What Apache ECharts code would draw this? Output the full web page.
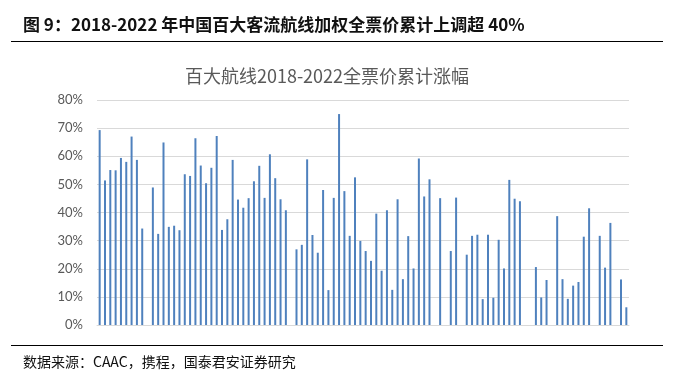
<!DOCTYPE html>
<html>
<head>
<meta charset="utf-8">
<script src="https://cdn.jsdelivr.net/npm/echarts@6/dist/echarts.min.js"></script>
<style>html,body{margin:0;padding:0;background:#fff;}#c{width:677px;height:381px;}</style>
</head>
<body>
<div id="c"></div>
<script>
var figureTitle = '图 9：2018-2022 年中国百大客流航线加权全票价累计上调超 40%';
var chartTitle = '百大航线2018-2022全票价累计涨幅';
var sourceNote = '数据来源：CAAC，携程，国泰君安证券研究';
var yTicks = [0, 10, 20, 30, 40, 50, 60, 70, 80];
var routes = ['1','2','3','4','5','6','7','8','9','10','11','12','13','14','15','16','17','18','19','20',
'21','22','23','24','25','26','27','28','29','30','31','32','33','34','35','36','37','38','39','40',
'41','42','43','44','45','46','47','48','49','50','51','52','53','54','55','56','57','58','59','60',
'61','62','63','64','65','66','67','68','69','70','71','72','73','74','75','76','77','78','79','80',
'81','82','83','84','85','86','87','88','89','90','91','92','93','94','95','96','97','98','99','100'];
var increase = [69.3,51.4,55.1,55.0,59.4,58.0,67.0,58.7,34.3,null,
48.9,32.4,64.9,34.9,35.3,33.7,53.6,53.0,66.4,56.7,
50.4,55.9,67.2,33.8,37.6,58.7,44.6,41.7,45.1,51.1,
56.6,45.2,60.7,52.2,44.7,40.8,null,26.9,28.5,58.9,
32.0,25.7,48.0,12.4,45.2,75.0,47.6,31.7,52.5,29.9,
26.3,22.8,39.6,19.3,40.8,12.5,44.7,16.3,31.6,20.1,
59.2,45.7,51.8,null,45.1,null,26.3,45.3,null,25.0,
31.7,32.1,9.2,32.1,9.7,30.3,20.1,51.6,44.9,44.0,
null,null,20.6,9.8,16.0,null,38.7,16.3,9.3,14.0,
15.3,31.4,41.5,null,31.7,20.4,36.3,null,16.2,6.3];

var chart = echarts.init(document.getElementById('c'));
chart.setOption({
  animation: false,
  backgroundColor: '#fff',
  grid: {left: 97, right: 48, top: 100, bottom: 56},
  xAxis: {
    type: 'category',
    data: routes,
    axisLine: {show: true, lineStyle: {color: '#d9d9d9', width: 1}},
    axisTick: {show: false},
    axisLabel: {show: false}
  },
  yAxis: {
    type: 'value',
    min: yTicks[0],
    max: yTicks[yTicks.length - 1],
    interval: 10,
    axisLine: {show: false},
    axisTick: {show: false},
    splitLine: {lineStyle: {color: '#d9d9d9', width: 1}},
    axisLabel: {formatter: '{value}%', color: '#595959', fontSize: 13, fontFamily: 'Lato', margin: 14}
  },
  series: [{
    type: 'bar',
    data: increase,
    barWidth: 2,
    itemStyle: {color: '#4f81bd'}
  }],
  graphic: [
    {type: 'text', x: 23, y: 25, style: {text: figureTitle, font: 'bold 17px "Noto Sans CJK SC"', fill: '#111', textVerticalAlign: 'middle'}},
    {type: 'line', shape: {x1: 11, y1: 41.5, x2: 663, y2: 41.5}, style: {stroke: '#000', lineWidth: 1}},
    {type: 'text', x: 327, y: 76, style: {text: chartTitle, font: '18px "Noto Sans CJK SC"', fill: '#595959', textAlign: 'center', textVerticalAlign: 'middle'}},
    {type: 'line', shape: {x1: 11, y1: 345.5, x2: 663, y2: 345.5}, style: {stroke: '#000', lineWidth: 1}},
    {type: 'text', x: 23, y: 362, style: {text: sourceNote, font: '14px "Noto Sans CJK SC"', fill: '#111', textVerticalAlign: 'middle'}}
  ]
});
</script>
</body>
</html>
